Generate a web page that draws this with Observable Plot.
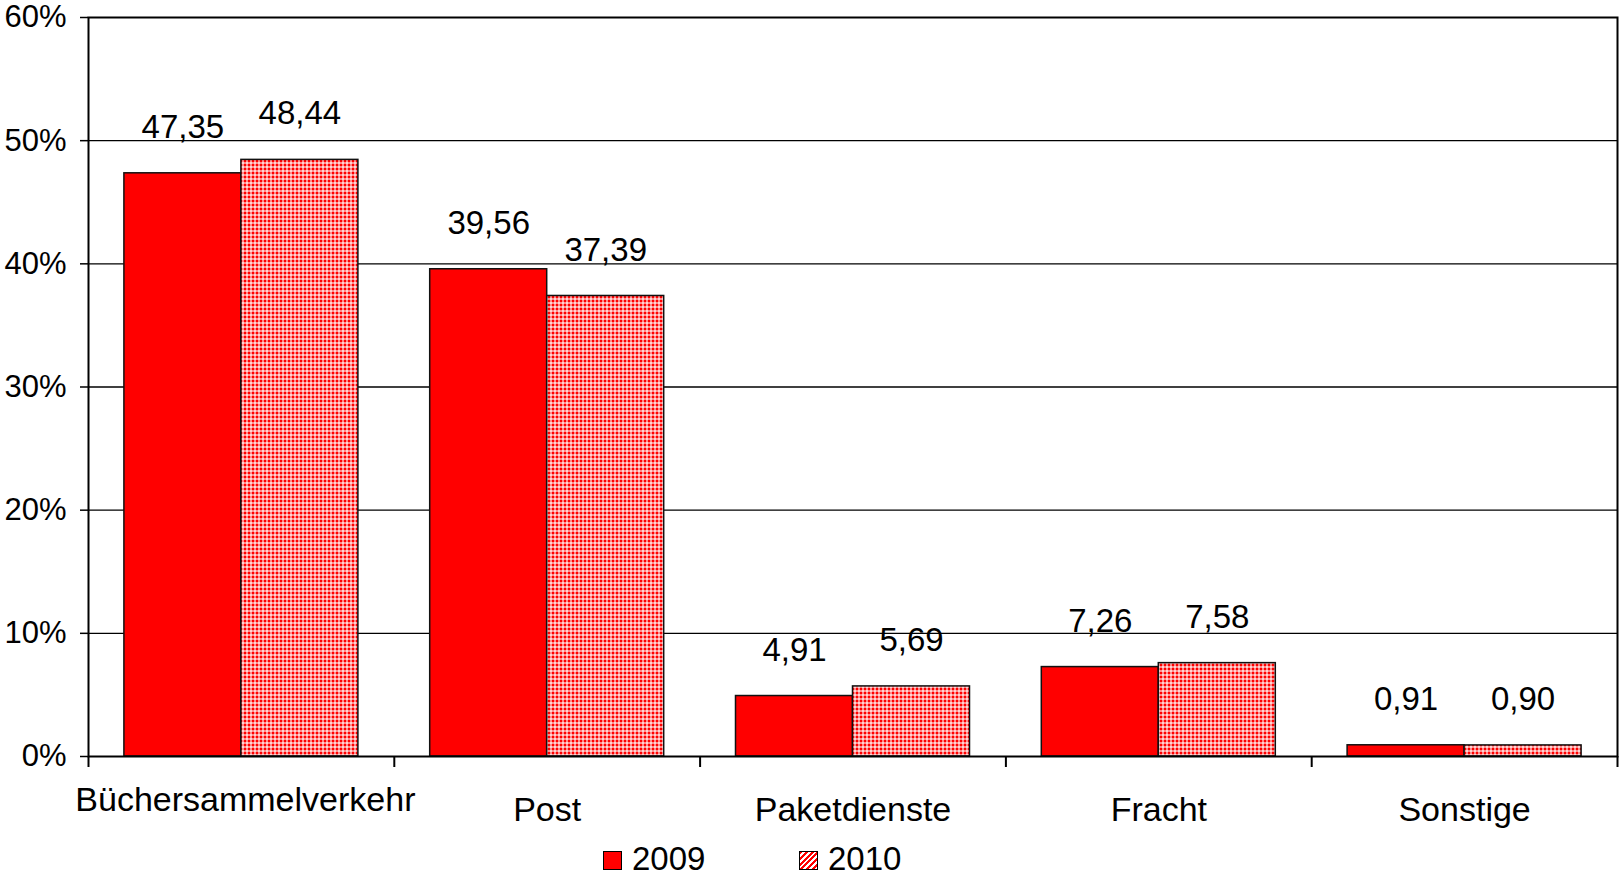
<!DOCTYPE html>
<html>
<head>
<meta charset="utf-8">
<script src="https://cdn.jsdelivr.net/npm/d3@7"></script>
<script src="https://cdn.jsdelivr.net/npm/@observablehq/plot@0.6"></script>
<style>
  html, body { margin: 0; padding: 0; background: #fff; }
  #wrap { width: 1619px; font-family: "Liberation Sans", Arial, sans-serif; color: #000; }
  #legend { position: relative; width: 1619px; height: 42px; }
  .sw { position: absolute; top: 11px; width: 17px; height: 17px; border: 1.5px solid #000; }
  .lt { position: absolute; top: 0px; font-size: 33px; line-height: 38px; }
</style>
</head>
<body>
<div id="wrap">
  <div id="chart"></div>
  <div id="legend"></div>
</div>
<script>
const categories = ["Büchersammelverkehr", "Post", "Paketdienste", "Fracht", "Sonstige"];
const years = ["2009", "2010"];
const values2009 = [47.35, 39.56, 4.91, 7.26, 0.91];
const values2010 = [48.44, 37.39, 5.69, 7.58, 0.90];
const yTicks = [0, 10, 20, 30, 40, 50, 60];

const rows2009 = categories.map((c, i) => ({category: c, year: years[0], value: values2009[i]}));
const rows2010 = categories.map((c, i) => ({category: c, year: years[1], value: values2010[i]}));

const W = 1619, H = 840, ML = 88, MR = 2, MT = 17, MB = 84;
const step = (W - ML - MR) / categories.length;
const barW = 117;
const fmt = v => v.toFixed(2).replace(".", ",");

const svg = Plot.plot({
  width: W, height: H,
  marginLeft: ML, marginRight: MR, marginTop: MT, marginBottom: MB,
  style: {fontFamily: '"Liberation Sans", Arial, sans-serif', fontSize: "31px", color: "#000", background: "#fff", overflow: "visible"},
  x: {type: "band", domain: categories, padding: 0, round: false, axis: null},
  y: {domain: [0, 60], axis: null},
  marks: [
    Plot.ruleY(yTicks.filter(t => t > 0 && t < 60), {y: d => d, stroke: "#000", strokeWidth: 1.3}),
    Plot.barY(rows2009, {x: "category", y: "value", fill: "#ff0000", stroke: "#111", strokeWidth: 1.5,
      insetLeft: step / 2 - barW, insetRight: step / 2}),
    Plot.barY(rows2010, {x: "category", y: "value", fill: "url(#chk2010)", stroke: "#111", strokeWidth: 1.5,
      insetLeft: step / 2, insetRight: step / 2 - barW}),
    Plot.frame({stroke: "#000", strokeWidth: 2}),
    Plot.axisY({ticks: yTicks, tickSize: 8, tickPadding: 14, tickFormat: d => d + "%", fontSize: 31, label: null, strokeWidth: 1.5}),
    Plot.axisX({ticks: categories, tickSize: 11, dx: -step / 2, tickFormat: () => "", label: null, strokeWidth: 2}),
    Plot.axisX({ticks: categories.slice(-1), tickSize: 11, dx: step / 2, tickFormat: () => "", label: null, strokeWidth: 2}),
    Plot.axisX({ticks: categories.slice(1), tickSize: 0, tickPadding: 40, fontSize: 34, label: null}),
    Plot.axisX({ticks: categories.slice(0, 1), tickSize: 0, tickPadding: 30, fontSize: 34, label: null, dx: 4}),
    Plot.text(rows2009, {x: "category", y: "value", text: d => fmt(d.value), dx: -barW / 2, dy: -46, fontSize: 33, lineAnchor: "middle", fill: "#000"}),
    Plot.text(rows2010, {x: "category", y: "value", text: d => fmt(d.value), dx: barW / 2, dy: -46, fontSize: 33, lineAnchor: "middle", fill: "#000"})
  ]
});

// checker pattern for 2010 bars
const ns = "http://www.w3.org/2000/svg";
const defs = document.createElementNS(ns, "defs");
defs.innerHTML = `
  <pattern id="chk2010" patternUnits="userSpaceOnUse" width="4" height="4">
    <rect width="4" height="4" fill="#ff8a8a"/>
    <rect x="0" y="0" width="2" height="2" fill="#ff0000"/>
    <rect x="2" y="2" width="2" height="2" fill="#ffd2d2"/>
  </pattern>`;
svg.insertBefore(defs, svg.firstChild);
document.getElementById("chart").appendChild(svg);

// legend
const legend = document.getElementById("legend");
const legendItems = [
  {label: years[0], swatchX: 603, textX: 632, bg: "#ff0000"},
  {label: years[1], swatchX: 799, textX: 828, bg: "repeating-linear-gradient(135deg, #ff0000 0 2px, #ffffff 2px 4px)"}
];
for (const it of legendItems) {
  const s = document.createElement("div");
  s.className = "sw";
  s.style.left = it.swatchX + "px";
  s.style.background = it.bg;
  legend.appendChild(s);
  const t = document.createElement("div");
  t.className = "lt";
  t.style.left = it.textX + "px";
  t.textContent = it.label;
  legend.appendChild(t);
}
</script>
</body>
</html>
